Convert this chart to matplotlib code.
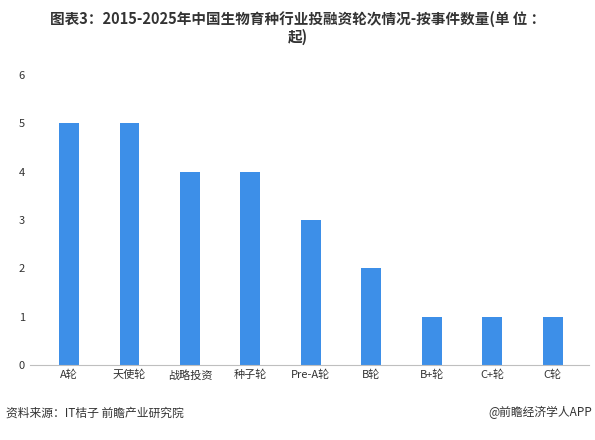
import matplotlib
matplotlib.use("Agg")
import matplotlib.pyplot as plt

plt.rcParams["font.family"] = ["Noto Sans CJK SC", "DejaVu Sans"]

categories = ["A轮", "天使轮", "战略投资", "种子轮", "Pre-A轮", "B轮", "B+轮", "C+轮", "C轮"]
counts = [5, 5, 4, 4, 3, 2, 1, 1, 1]

fig = plt.figure(figsize=(5.95, 4.4), dpi=100)
ax = fig.add_axes([0.05, 0.17, 0.94, 0.66])
ax.bar(range(len(categories)), counts, width=0.33, color="#3d8fe8")
ax.set_xlim(-0.65, len(categories) - 0.4)
ax.set_ylim(0, 6)
ax.set_yticks(range(7))
ax.set_xticks(range(len(categories)))
ax.set_xticklabels(categories)
ax.tick_params(axis="both", labelsize=8, colors="#333333", length=0)
for side in ["top", "right", "left"]:
    ax.spines[side].set_visible(False)
ax.spines["bottom"].set_color("#bfbfbf")

fig.text(0.5, 0.975, "图表3：2015-2025年中国生物育种行业投融资轮次情况-按事件数量(单 位 ：\n起)",
         ha="center", va="top", fontsize=10.5, fontweight="bold", color="#333333", linespacing=1.1)
fig.text(0.01, 0.062, "资料来源：IT桔子 前瞻产业研究院", fontsize=8.5, color="#333333", va="center")
fig.text(0.995, 0.062, "@前瞻经济学人APP", fontsize=8.5, color="#333333", va="center", ha="right")

fig.savefig("out.png", dpi=100)
